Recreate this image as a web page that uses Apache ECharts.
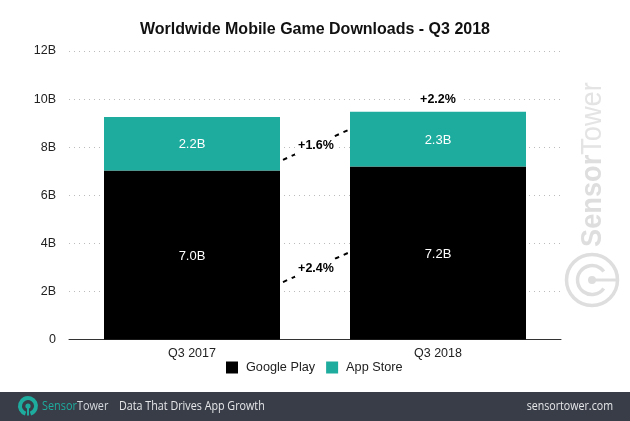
<!DOCTYPE html>
<html>
<head>
<meta charset="utf-8">
<title>Worldwide Mobile Game Downloads - Q3 2018</title>
<script src="https://cdn.jsdelivr.net/npm/echarts@6/dist/echarts.min.js"></script>
<style>
  html, body { margin: 0; padding: 0; background: #fff; }
  #chart { width: 630px; height: 421px; }
</style>
</head>
<body>
<div id="chart"></div>
<script>
const categories = ['Q3 2017', 'Q3 2018'];
const googlePlay = [7.03, 7.2];
const appStore = [2.22, 2.27];

// growth callouts: label and the axis values the dashed line starts and ends at
const growthLabels = ['+1.6%', '+2.4%'];
const growthFrom = [7.47, 2.39];
const growthTo = [8.71, 3.6];
const totalGrowth = '+2.2%';
const totalGrowthValue = 10;

const FONT = '"Liberation Sans", Arial, sans-serif';
const BRAND_FONT = '"Open Sans", "Noto Sans", sans-serif';
const TEAL = '#1eac9e';
const BAR_WIDTH = 176;
const WATERMARK = '#dedede';

const chart = echarts.init(document.getElementById('chart'), null, { renderer: 'canvas' });

const valueLabel = {
  show: true,
  position: 'inside',
  offset: [0, 1],
  fontFamily: FONT,
  fontSize: 13,
  color: '#fff',
  formatter: p => p.value.toFixed(1) + 'B'
};

// big watermark logo: thin ring, inner arc, dot and stem
const watermarkLogo = {
  type: 'group',
  x: 592,
  y: 280,
  rotation: Math.PI / 2,
  silent: true,
  children: [
    { type: 'circle', shape: { cx: 0, cy: 0, r: 25.5 }, style: { stroke: WATERMARK, fill: null, lineWidth: 3.5 } },
    { type: 'arc', shape: { cx: 0, cy: 0, r: 14.5, startAngle: Math.PI * 0.7, endAngle: Math.PI * 0.3 }, style: { stroke: WATERMARK, fill: null, lineWidth: 3.5 } },
    { type: 'circle', shape: { cx: 0, cy: 0, r: 4 }, style: { fill: WATERMARK } },
    { type: 'rect', shape: { x: -1.5, y: 0, width: 3, height: 25 }, style: { fill: WATERMARK } }
  ]
};

// small footer logo: thick ring open at the bottom, dot and stem
const footerLogo = {
  type: 'group',
  x: 28,
  y: 406,
  silent: true,
  children: [
    { type: 'arc', shape: { cx: 0, cy: 0, r: 8, startAngle: Math.PI * 0.6, endAngle: Math.PI * 0.4 }, style: { stroke: TEAL, fill: null, lineWidth: 4 } },
    { type: 'circle', shape: { cx: 0, cy: 0, r: 2.6 }, style: { fill: TEAL } },
    { type: 'rect', shape: { x: -1, y: 0, width: 2, height: 9.5 }, style: { fill: TEAL } }
  ]
};

chart.setOption({
  animation: false,
  backgroundColor: '#fff',
  title: {
    text: 'Worldwide Mobile Game Downloads - Q3 2018',
    left: 'center',
    top: 17,
    textStyle: { fontFamily: FONT, fontSize: 16, fontWeight: 'bold', color: '#111' }
  },
  legend: {
    left: 226,
    top: 361,
    padding: 0,
    icon: 'rect',
    itemWidth: 12,
    itemHeight: 12,
    itemGap: 11,
    selectedMode: false,
    data: ['Google Play', 'App Store'],
    textStyle: { fontFamily: FONT, fontSize: 12.7, color: '#222', padding: [0, 0, 0, 3] }
  },
  grid: { left: 69, right: 69, top: 51, height: 288.5 },
  xAxis: {
    type: 'category',
    data: categories,
    axisTick: { show: false },
    axisLine: { lineStyle: { color: '#333', width: 1 } },
    axisLabel: { fontFamily: FONT, fontSize: 12.5, color: '#222', margin: 8 }
  },
  yAxis: {
    type: 'value',
    min: 0,
    max: 12,
    interval: 2,
    axisLine: { show: false },
    axisTick: { show: false },
    axisLabel: {
      fontFamily: FONT,
      fontSize: 12.5,
      color: '#222',
      margin: 13,
      padding: [4, 0, 0, 0],
      formatter: v => (v === 0 ? '0' : v + 'B')
    },
    splitLine: { lineStyle: { color: '#bcbcbc', width: 1, type: [1, 4] } }
  },
  series: [
    {
      name: 'Google Play',
      type: 'bar',
      stack: 'total',
      barWidth: BAR_WIDTH,
      data: googlePlay,
      itemStyle: { color: '#000' },
      label: valueLabel
    },
    {
      name: 'App Store',
      type: 'bar',
      stack: 'total',
      barWidth: BAR_WIDTH,
      data: appStore,
      itemStyle: { color: TEAL },
      label: valueLabel
    },
    {
      name: 'growth',
      type: 'custom',
      silent: true,
      data: growthFrom.map((v, i) => [v, growthTo[i]]),
      encode: { y: [0, 1] },
      renderItem: (params, api) => {
        const a = api.coord([0, api.value(0)]);
        const b = api.coord([1, api.value(1)]);
        const x1 = a[0] + BAR_WIDTH / 2 + 3;
        const x2 = b[0] - BAR_WIDTH / 2 - 2;
        const mx = (x1 + x2) / 2 + 0.5;
        const my = (a[1] + b[1]) / 2 + 1;
        return {
          type: 'group',
          children: [
            { type: 'line', shape: { x1, y1: a[1], x2, y2: b[1] }, style: { stroke: '#000', lineWidth: 2, lineDash: [4.5, 5] } },
            { type: 'rect', shape: { x: mx - 21, y: my - 9, width: 42, height: 18 }, style: { fill: '#fff' } },
            { type: 'text', x: mx, y: my, style: { text: growthLabels[params.dataIndex], fontFamily: FONT, fontSize: 12.5, fontWeight: 'bold', fill: '#000', align: 'center', verticalAlign: 'middle' } }
          ]
        };
      }
    },
    {
      name: 'total',
      type: 'custom',
      silent: true,
      data: [[1, totalGrowthValue]],
      renderItem: (params, api) => {
        const p = api.coord([api.value(0), api.value(1)]);
        return {
          type: 'group',
          children: [
            { type: 'rect', shape: { x: p[0] - 24, y: p[1] - 8, width: 50, height: 16 }, style: { fill: '#fff' } },
            { type: 'text', x: p[0], y: p[1], style: { text: totalGrowth, fontFamily: FONT, fontSize: 12.5, fontWeight: 'bold', fill: '#000', align: 'center', verticalAlign: 'middle' } }
          ]
        };
      }
    }
  ],
  graphic: [
    // the dotted lines stop a little short of the axis line on both ends
    { type: 'rect', silent: true, shape: { x: 68, y: 48, width: 4.5, height: 285 }, style: { fill: '#fff' } },
    { type: 'rect', silent: true, shape: { x: 557, y: 48, width: 5, height: 285 }, style: { fill: '#fff' } },
    // rotated watermark
    {
      type: 'text',
      x: 578,
      y: 247,
      rotation: Math.PI / 2,
      scaleX: 0.938,
      silent: true,
      style: {
        text: '{a|Sensor}{b|Tower}',
        rich: {
          a: { fontFamily: FONT, fontSize: 29, fontWeight: 'bold', fill: WATERMARK },
          b: { fontFamily: FONT, fontSize: 29, fill: '#e4e4e4' }
        }
      }
    },
    watermarkLogo,
    // footer band
    { type: 'rect', silent: true, shape: { x: 0, y: 392, width: 630, height: 29 }, style: { fill: '#383d48' } },
    footerLogo,
    {
      type: 'text',
      x: 42,
      y: 406.5,
      scaleX: 0.87,
      silent: true,
      style: {
        text: '{a|Sensor}{b|Tower}',
        verticalAlign: 'middle',
        rich: {
          a: { fontFamily: BRAND_FONT, fontSize: 12.5, fill: TEAL },
          b: { fontFamily: BRAND_FONT, fontSize: 12.5, fill: '#d5d8dc' }
        }
      }
    },
    { type: 'text', x: 119, y: 406.5, scaleX: 0.895, silent: true, style: { text: 'Data That Drives App Growth', fontFamily: BRAND_FONT, fontSize: 12, fill: '#e6e7e9', verticalAlign: 'middle' } },
    { type: 'text', x: 613, y: 406.5, scaleX: 0.887, silent: true, style: { text: 'sensortower.com', fontFamily: BRAND_FONT, fontSize: 12, fill: '#e6e7e9', align: 'right', verticalAlign: 'middle' } }
  ]
});
</script>
</body>
</html>
